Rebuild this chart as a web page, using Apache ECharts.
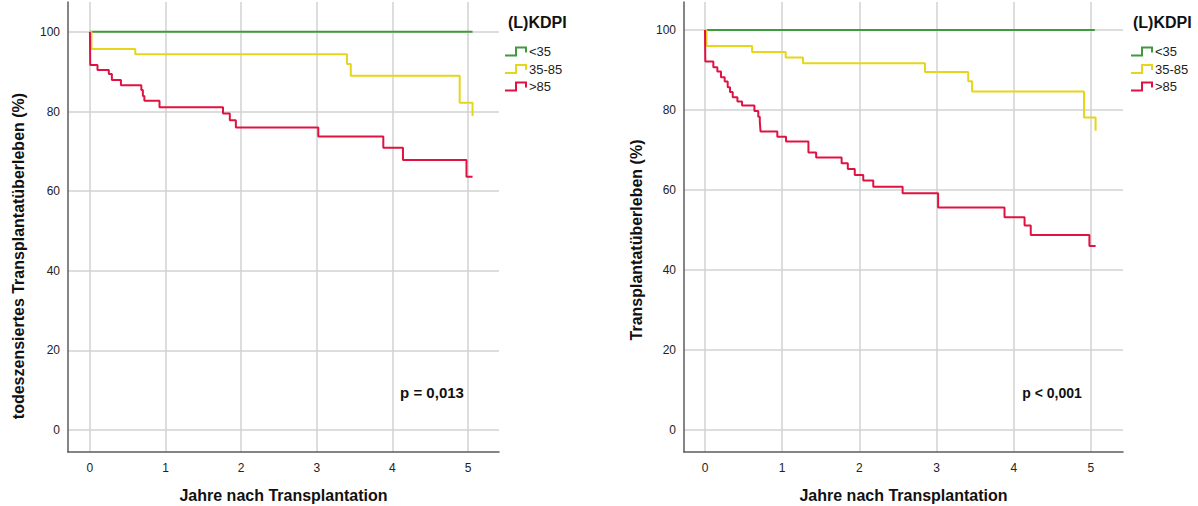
<!DOCTYPE html>
<html>
<head>
<meta charset="utf-8">
<script src="https://cdn.jsdelivr.net/npm/echarts@6/dist/echarts.min.js"></script>
<style>
  html, body { margin: 0; padding: 0; background: #fff; }
  #chart { width: 1198px; height: 506px; }
</style>
</head>
<body>
<div id="chart"></div>
<script>
// Kaplan-Meier curves by (L)KDPI group: time in years, survival in percent.
const groupNames = ['<35', '35-85', '>85'];
const yearTicks = [0, 1, 2, 3, 4, 5];
const percentTicks = [0, 20, 40, 60, 80, 100];

// Death-censored graft survival
const dcLowTimes = [0, 5.06];
const dcLowSurv = [100, 100];
const dcMidTimes = [0, 0.02, 0.60, 3.40, 3.45, 4.89, 5.06];
const dcMidSurv = [100, 95.7, 94.4, 91.9, 89.0, 82.2, 78.9];
const dcHighTimes = [0, 0.004, 0.10, 0.25, 0.29, 0.41, 0.68, 0.70, 0.72, 0.92, 1.76, 1.85, 1.93, 3.02, 3.88, 4.14, 4.98, 5.06];
const dcHighSurv = [100, 91.7, 90.4, 89.4, 87.9, 86.6, 85.4, 83.9, 82.7, 81.1, 79.5, 77.8, 76.0, 73.7, 70.9, 67.8, 63.6, 63.6];

// Overall graft survival
const gsLowTimes = [0, 5.05];
const gsLowSurv = [100, 100];
const gsMidTimes = [0, 0.02, 0.61, 1.045, 1.27, 2.85, 3.41, 3.46, 4.91, 5.06];
const gsMidSurv = [100, 96.0, 94.5, 93.1, 91.7, 89.5, 87.2, 84.6, 78.1, 74.8];
const gsHighTimes = [0, 0.004, 0.108, 0.16, 0.207, 0.255, 0.294, 0.324, 0.359, 0.42, 0.48, 0.64, 0.69, 0.71, 0.715, 0.72, 0.937, 1.05, 1.34, 1.44, 1.77, 1.85, 1.94, 2.05, 2.18, 2.56, 3.02, 3.88, 4.14, 4.22, 4.98, 5.06];
const gsHighSurv = [100, 92.1, 90.7, 89.6, 88.2, 87.1, 85.7, 84.5, 83.2, 82.1, 81.1, 79.75, 78.3, 77.1, 75.8, 74.6, 73.3, 72.1, 69.4, 68.1, 66.7, 65.25, 63.75, 62.4, 60.8, 59.2, 55.6, 53.2, 51.1, 48.75, 46.0, 46.0];

const colors = ['#3f9a3c', '#e6d619', '#df1242'];
const FONT = '"Liberation Sans", Arial, sans-serif';

const pairs = (t, s) => t.map((v, i) => [v, s[i]]);

// step-shaped legend icon (thin outline polygon)
const stepIcon = 'path://M0,8 L10,8 L10,0 L22,0 L22,6 L20,6 L20,2 L12,2 L12,10 L0,10 Z';

function xAxisFor(gridIndex, min, max) {
  return {
    type: 'value', gridIndex, min, max,
    name: 'Jahre nach Transplantation',
    nameLocation: 'middle', nameGap: 35,
    nameTextStyle: { fontFamily: FONT, fontSize: 16, fontWeight: 'bold', color: '#111' },
    axisLine: { show: true, onZero: false, lineStyle: { color: '#5c5c5c', width: 1.5 } },
    axisTick: { show: false, customValues: yearTicks },
    axisLabel: { customValues: yearTicks, margin: 10, fontFamily: FONT, fontSize: 12, color: '#222' },
    splitLine: { show: true, lineStyle: { color: '#d2d2d2', width: 1.5 } }
  };
}
function yAxisFor(gridIndex, min, max) {
  return {
    type: 'value', gridIndex, min, max,
    axisLine: { show: true, onZero: false, lineStyle: { color: '#5c5c5c', width: 1.5 } },
    axisTick: { show: false, customValues: percentTicks },
    axisLabel: { customValues: percentTicks, margin: 8, fontFamily: FONT, fontSize: 12, color: '#222' },
    splitLine: { show: true, lineStyle: { color: '#d2d2d2', width: 1.5 } }
  };
}
function curve(name, data, idx, colorIdx) {
  return {
    name, type: 'line', step: 'end', data,
    xAxisIndex: idx, yAxisIndex: idx,
    showSymbol: false, symbol: 'none', silent: true,
    color: colors[colorIdx],
    lineStyle: { width: 2, color: colors[colorIdx] }
  };
}
function legendFor(left) {
  return {
    orient: 'vertical', left, top: 40, itemGap: 4.5,
    itemWidth: 22, itemHeight: 10, icon: stepIcon,
    data: groupNames,
    textStyle: { fontFamily: FONT, fontSize: 13, color: '#222', padding: [0, 0, 0, -3] },
    selectedMode: false
  };
}

const chart = echarts.init(document.getElementById('chart'), null, { renderer: 'svg' });
chart.setOption({
  animation: false,
  backgroundColor: '#ffffff',
  grid: [
    { left: 68, top: 2, width: 431, height: 450, outerBoundsMode: 'none', containLabel: false },
    { left: 684, top: 2, width: 439, height: 450, outerBoundsMode: 'none', containLabel: false }
  ],
  xAxis: [xAxisFor(0, -0.29, 5.41), xAxisFor(1, -0.272, 5.415)],
  yAxis: [yAxisFor(0, -5.5, 107.5), yAxisFor(1, -5.5, 107)],
  legend: [legendFor(500), legendFor(1126)],
  title: [
    { text: '(L)KDPI', left: 503, top: 9, textStyle: { fontFamily: FONT, fontSize: 16, fontWeight: 'bold', color: '#111' } },
    { text: '(L)KDPI', left: 1128, top: 9, textStyle: { fontFamily: FONT, fontSize: 16, fontWeight: 'bold', color: '#111' } }
  ],
  graphic: [
    { type: 'text', x: 18, y: 256, rotation: Math.PI / 2,
      style: { text: 'todeszensiertes Transplantatüberleben (%)', font: 'bold 16px "Liberation Sans", Arial, sans-serif', fill: '#111', align: 'center', verticalAlign: 'middle' } },
    { type: 'text', x: 636, y: 240, rotation: Math.PI / 2,
      style: { text: 'Transplantatüberleben (%)', font: 'bold 16px "Liberation Sans", Arial, sans-serif', fill: '#111', align: 'center', verticalAlign: 'middle' } },
    { type: 'text', x: 432, y: 392,
      style: { text: 'p = 0,013', font: 'bold 15px "Liberation Sans", Arial, sans-serif', fill: '#111', align: 'center', verticalAlign: 'middle' } },
    { type: 'text', x: 1052, y: 393,
      style: { text: 'p < 0,001', font: 'bold 14px "Liberation Sans", Arial, sans-serif', fill: '#111', align: 'center', verticalAlign: 'middle' } }
  ],
  series: [
    curve('<35', pairs(dcLowTimes, dcLowSurv), 0, 0),
    curve('35-85', pairs(dcMidTimes, dcMidSurv), 0, 1),
    curve('>85', pairs(dcHighTimes, dcHighSurv), 0, 2),
    curve('<35', pairs(gsLowTimes, gsLowSurv), 1, 0),
    curve('35-85', pairs(gsMidTimes, gsMidSurv), 1, 1),
    curve('>85', pairs(gsHighTimes, gsHighSurv), 1, 2)
  ]
});
</script>
</body>
</html>
